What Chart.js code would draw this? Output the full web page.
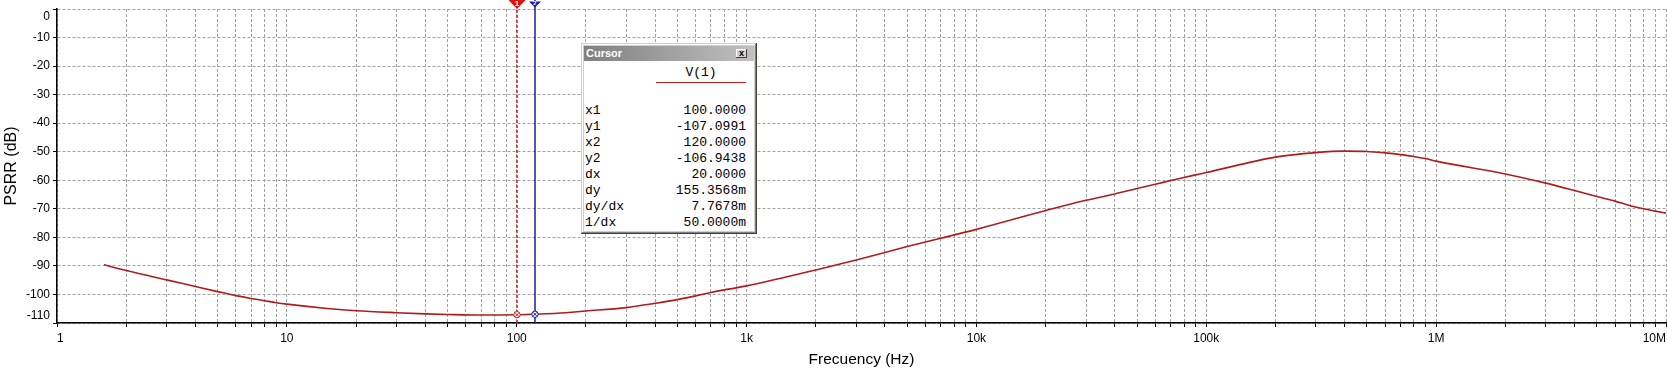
<!DOCTYPE html>
<html>
<head>
<meta charset="utf-8">
<title>PSRR</title>
<script src="https://cdn.jsdelivr.net/npm/chart.js@4.4.1/dist/chart.umd.min.js"></script>
<style>
  html, body { margin: 0; padding: 0; background: #fff; }
  .wrap { position: relative; width: 1667px; height: 372px; overflow: hidden; }
  .wrap canvas { display: block; }

  /* floating "Cursor" readout window */
  .cursor-win {
    position: absolute; left: 581px; top: 43px; width: 176px; height: 191px;
    box-sizing: border-box; background: #d4d0c8;
    box-shadow: inset -1px -1px #404040, inset 1px 1px #d4d0c8, inset -2px -2px #808080, inset 2px 2px #fff;
  }
  .cursor-title {
    position: absolute; left: 3px; top: 3px; width: 170px; height: 15px;
    background: linear-gradient(to right, #808080, #c0c0c0);
    color: #fff; font: bold 11px 'Liberation Sans', Arial, sans-serif; line-height: 15px;
    padding-left: 2px; box-sizing: border-box;
  }
  .cursor-close {
    position: absolute; left: 155px; top: 6px; width: 11px; height: 9px;
    background: #d4d0c8; box-sizing: border-box;
    box-shadow: inset -1px -1px #404040, inset 1px 1px #fff;
    font: bold 9px 'Liberation Sans', Arial, sans-serif; line-height: 8px; text-align: center; color: #000;
  }
  .cursor-body {
    position: absolute; left: 3px; top: 18px; width: 170px; height: 170px; background: #fff;
    font: 13px 'Liberation Mono', 'Courier New', monospace; color: #000;
  }
  .cursor-body .hdr { position: absolute; left: 72px; top: 4px; width: 90px; height: 16px; line-height: 16px; text-align: center; }
  .cursor-body .uline { position: absolute; left: 72px; top: 21px; width: 90px; height: 1px; background: #c02020; }
  .cursor-body .row { position: absolute; left: 1px; width: 161px; height: 16px; line-height: 16px; }
  .cursor-body .row .v { position: absolute; right: 0; top: 0; }
</style>
</head>
<body>
<div class="wrap">
  <canvas id="chart" width="1667" height="372"></canvas>
  <div class="cursor-win">
    <div class="cursor-title">Cursor</div>
    <div class="cursor-close">x</div>
    <div class="cursor-body" id="cursorBody">
      <div class="hdr">V(1)</div>
      <div class="uline"></div>
    </div>
  </div>
</div>
<script>
// frequency sweep (Hz) and PSRR (dB)
const freqHz = [
  1.6, 2, 3, 4, 5, 6, 7, 8, 9, 10,
  15, 20, 30, 40, 50, 70, 100, 120, 150, 200,
  300, 400, 500, 600, 700, 800, 900, 1000,
  2000, 3000, 4000, 5000, 6000, 7000, 10000,
  20000, 30000, 40000, 50000, 60000, 70000, 80000, 90000, 100000,
  200000, 300000, 400000, 500000, 600000, 700000, 800000, 900000, 1000000,
  2000000, 3000000, 4000000, 5000000, 6000000, 7000000, 8000000, 9000000, 10000000
];
const psrrDb = [
  -89.6, -91.6, -94.9, -97.2, -99.0, -100.4, -101.4, -102.2, -102.9, -103.4,
  -104.9, -105.7, -106.4, -106.8, -107.0, -107.2, -107.1, -106.9, -106.6, -105.8,
  -104.6, -103.1, -101.8, -100.5, -99.3, -98.4, -97.7, -97.0,
  -91.4, -87.9, -85.3, -83.2, -81.6, -80.3, -77.2,
  -70.6, -67.0, -64.8, -62.9, -61.4, -60.1, -59.0, -58.1, -57.3,
  -51.9, -50.3, -49.8, -49.9, -50.4, -51.0, -51.7, -52.4, -53.3,
  -57.8, -61.0, -63.6, -65.7, -67.3, -68.9, -70.0, -70.8, -71.5
];

// the two cursors
const cursorFreq = [100, 120];
const cursorPsrr = [-107.0991, -106.9438];
const cursorNames = ['1', '2'];

// readout window
const readoutNames = ['x1', 'y1', 'x2', 'y2', 'dx', 'dy', 'dy/dx', '1/dx'];
const readoutValues = ['100.0000', '-107.0991', '120.0000', '-106.9438', '20.0000', '155.3568m', '7.7678m', '50.0000m'];

// axes
const decadeTicks = [1, 10, 100, 1000, 10000, 100000, 1000000, 10000000];
const decadeLabels = ['1', '10', '100', '1k', '10k', '100k', '1M', '10M'];
const minorSteps = [2, 3, 4, 5, 6, 7, 8, 9];
const yTickValues = [0, -10, -20, -30, -40, -50, -60, -70, -80, -90, -100, -110];

const xTickValues = [];
decadeTicks.forEach((d, i) => {
  xTickValues.push(d);
  if (i < decadeTicks.length - 1) minorSteps.forEach((m) => xTickValues.push(d * m));
});

const body = document.getElementById('cursorBody');
readoutNames.forEach((name, i) => {
  const row = document.createElement('div');
  row.className = 'row';
  row.style.top = (42 + i * 16) + 'px';
  row.innerHTML = '<span class="n"></span><span class="v"></span>';
  row.querySelector('.n').textContent = name;
  row.querySelector('.v').textContent = readoutValues[i];
  body.appendChild(row);
});

const cursorPlugin = {
  id: 'cursors',
  afterDatasetsDraw(chart) {
    const { ctx, chartArea, scales: { x, y } } = chart;
    const colors = ['#cc1f1f', '#1c1ca6'];
    const fills = ['#e01010', '#1414c0'];
    cursorFreq.forEach((f, i) => {
      const px = Math.round(x.getPixelForValue(f));
      const py = y.getPixelForValue(cursorPsrr[i]);
      ctx.save();
      ctx.strokeStyle = colors[i];
      ctx.lineWidth = 1.5;
      ctx.setLineDash(i === 0 ? [3, 2] : []);
      ctx.beginPath();
      ctx.moveTo(px, 0);
      ctx.lineTo(px, chartArea.bottom);
      ctx.stroke();
      ctx.setLineDash([]);

      // marker on the curve
      ctx.lineWidth = 1;
      ctx.fillStyle = '#fff';
      ctx.beginPath();
      ctx.arc(px, py, 3.2, 0, Math.PI * 2);
      ctx.fill();
      ctx.stroke();
      ctx.beginPath();
      ctx.moveTo(px - 2, py - 2); ctx.lineTo(px + 2, py + 2);
      ctx.moveTo(px + 2, py - 2); ctx.lineTo(px - 2, py + 2);
      ctx.stroke();

      // flag on top
      const w = i === 0 ? 8.5 : 6;
      const t = i === 0 ? 0 : 1.5;
      const tip = i === 0 ? 9 : 7.5;
      ctx.fillStyle = fills[i];
      ctx.beginPath();
      ctx.moveTo(px - w, t);
      ctx.lineTo(px + w, t);
      ctx.lineTo(px, tip);
      ctx.closePath();
      ctx.fill();
      ctx.fillStyle = '#fff';
      ctx.font = 'bold ' + (i === 0 ? 8 : 6) + 'px "Liberation Sans", Arial, sans-serif';
      ctx.textAlign = 'center';
      ctx.textBaseline = 'middle';
      ctx.fillText(cursorNames[i], px, i === 0 ? 3.5 : 3.8);
      ctx.restore();
    });
  }
};

Chart.defaults.font.family = '"Liberation Sans", Arial, sans-serif';
Chart.defaults.font.size = 12;
Chart.defaults.color = '#000';

new Chart(document.getElementById('chart').getContext('2d'), {
  type: 'line',
  data: {
    datasets: [
      {
        label: 'V(1)',
        data: freqHz.map((f, i) => ({ x: f, y: psrrDb[i] })),
        borderColor: '#b01c1c',
        borderWidth: 1.6,
        pointRadius: 0,
        cubicInterpolationMode: 'monotone',
        fill: false,
      },
    ],
  },
  options: {
    responsive: false,
    animation: false,
    devicePixelRatio: 1,
    layout: { padding: { top: 9, right: 1, left: 0, bottom: 0 } },
    plugins: {
      legend: { display: false },
      tooltip: { enabled: false },
    },
    scales: {
      x: {
        type: 'logarithmic',
        min: 1,
        max: 10000000,
        afterBuildTicks: (s) => { s.ticks = xTickValues.map((v) => ({ value: v })); },
        afterFit: (s) => { s.height = 49; s.paddingLeft = 0; s.paddingRight = 0; },
        ticks: {
          autoSkip: false,
          maxRotation: 0,
          align: 'inner',
          padding: 4,
          font: { size: 12 },
          callback: (v) => {
            const k = decadeTicks.indexOf(v);
            return k >= 0 ? decadeLabels[k] : '';
          },
        },
        grid: { color: '#a0a0a0', tickColor: '#000', tickLength: 4, lineWidth: 1 },
        border: { color: '#000', width: 1.5, dash: [3, 2] },
        title: {
          display: true,
          text: 'Frecuency (Hz)',
          font: { size: 15.5 },
          padding: { top: 0, bottom: 3 },
        },
      },
      y: {
        min: -110,
        max: 0,
        afterBuildTicks: (s) => { s.ticks = yTickValues.map((v) => ({ value: v })); },
        afterFit: (s) => { s.width = 57; s.paddingTop = 0; s.paddingBottom = 0; },
        ticks: {
          autoSkip: false,
          padding: 3,
          font: { size: 12 },
          callback: (v) => {
            if (v === 0) return ['', '0'];
            if (v === -110) return ['-110', ''];
            return String(v);
          },
        },
        grid: { color: '#a0a0a0', tickColor: '#000', tickLength: 4, lineWidth: 1 },
        border: { color: '#000', width: 1.5, dash: [3, 2] },
        title: {
          display: true,
          text: 'PSRR (dB)',
          font: { size: 16 },
          padding: { top: 2, bottom: 0 },
        },
      },
    },
  },
  plugins: [cursorPlugin],
});
</script>
</body>
</html>
